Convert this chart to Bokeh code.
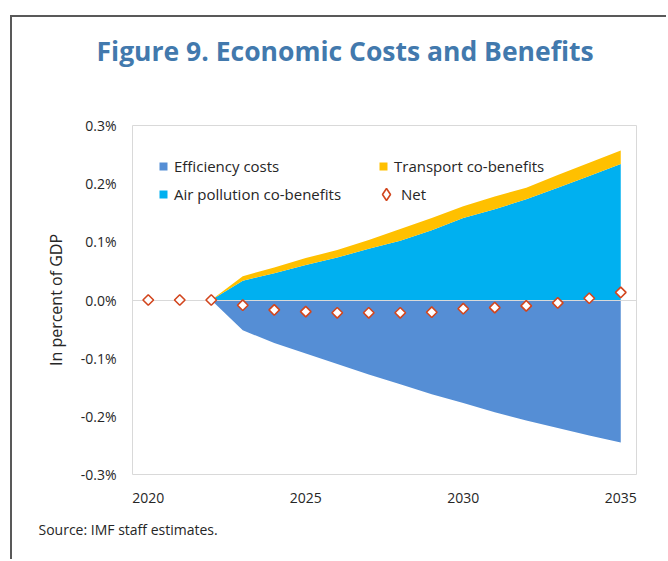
import math
from bokeh.plotting import figure
from bokeh.models import (ColumnDataSource, Legend, LegendItem, FixedTicker,
                          PrintfTickFormatter, Range1d, Title)
from bokeh.embed import file_html
from bokeh.resources import INLINE

# ---------------- data (percent of GDP) ----------------
years = [2020, 2021, 2022, 2023, 2024, 2025, 2026, 2027, 2028, 2029, 2030,
         2031, 2032, 2033, 2034, 2035]
efficiency_costs = [0, 0, 0, -0.052, -0.074, -0.092, -0.110, -0.128, -0.145,
                    -0.162, -0.177, -0.193, -0.207, -0.220, -0.233, -0.245]
air_pollution = [0, 0, 0, 0.033, 0.046, 0.060, 0.073, 0.088, 0.102, 0.120,
                 0.141, 0.156, 0.173, 0.193, 0.213, 0.234]
transport = [0, 0, 0, 0.008, 0.010, 0.012, 0.013, 0.015, 0.020, 0.021,
             0.020, 0.022, 0.020, 0.022, 0.023, 0.023]
net = [0, 0, 0, -0.009, -0.017, -0.020, -0.022, -0.022, -0.022, -0.021,
       -0.015, -0.013, -0.010, -0.005, 0.003, 0.013]
x_ticks = [2020, 2025, 2030, 2035]
y_ticks = [-0.3, -0.2, -0.1, 0, 0.1, 0.2, 0.3]

source = ColumnDataSource(dict(year=years, eff=efficiency_costs, air=air_pollution,
                               transport=transport, net=net,
                               zero=[0] * len(years)))

FONT = "Open Sans"
TXT = "#262626"
NET_COLOR = "#D2461E"

p = figure(width=656, height=544, output_backend="svg", toolbar_location=None,
           x_range=Range1d(2019.5, 2035.5), y_range=Range1d(-0.3, 0.3),
           min_border_left=120, min_border_right=32, min_border_top=108,
           min_border_bottom=87,
           styles={"border-top": "2px solid #595959", "border-left": "2px solid #595959"},
           margin=(15, 0, 0, 10))
# off-screen range used only to supply a diamond glyph to the legend
p.extra_y_ranges = {"legend_only": Range1d(start=10, end=11)}

# spacer between frame and title (closest to the frame)
p.add_layout(Title(text=" ", text_font_size="14px", standoff=34), "above")

# title (outermost)
p.title.text = "Figure 9. Economic Costs and Benefits"
p.title.align = "left"
p.title.offset = -36
p.title.text_font = FONT
p.title.text_font_style = "bold"
p.title.text_font_size = "26.5px"
p.title.text_color = "#4279AD"
p.title.standoff = 10

# areas
r_eff = p.varea(x="year", y1="eff", y2="zero", source=source, fill_color="#558ED5")
r_air, r_tr = p.varea_stack(["air", "transport"], x="year", source=source,
                            color=["#00B0F0", "#FFC000"])
p.hspan(y=[0], line_color="#D9D9D9", line_width=1)
r_net = p.scatter(x="year", y="net", source=source, marker="square", size=7.5,
                  angle=math.pi / 4, fill_color="white", line_color=NET_COLOR,
                  line_width=1.6)
# legend-only glyph for the Net entry (drawn on an off-screen range)
r_net_leg = p.scatter(x="year", y="net", source=source, marker="diamond",
                      fill_color="white", line_color=NET_COLOR, line_width=1.6,
                      y_range_name="legend_only")

# axes
p.xgrid.visible = False
p.ygrid.visible = False
p.outline_line_color = "#D9D9D9"
p.outline_line_width = 1

p.xaxis.ticker = FixedTicker(ticks=x_ticks)
p.yaxis.ticker = FixedTicker(ticks=y_ticks)
p.yaxis.formatter = PrintfTickFormatter(format="%.1f%%")
for ax in (p.xaxis, p.yaxis):
    ax.axis_line_color = None
    ax.major_tick_line_color = None
    ax.minor_tick_line_color = None
    ax.major_label_text_font = FONT
    ax.major_label_text_font_size = "14px"
    ax.major_label_text_color = TXT
p.xaxis.major_label_standoff = 12
p.yaxis.major_label_standoff = 10
p.yaxis.axis_label = "In percent of GDP"
p.yaxis.axis_label_text_font = FONT
p.yaxis.axis_label_text_font_style = "normal"
p.yaxis.axis_label_text_font_size = "16px"
p.yaxis.axis_label_text_color = TXT
p.yaxis.axis_label_standoff = 11


def style_legend(lg):
    lg.label_text_font = FONT
    lg.label_text_font_size = "15px"
    lg.label_text_color = TXT
    lg.padding = 0
    lg.margin = 0
    lg.border_line_color = None
    lg.background_fill_alpha = 0


legend = Legend(items=[
    LegendItem(label="Efficiency costs", renderers=[r_eff]),
    LegendItem(label="Air pollution co-benefits", renderers=[r_air]),
    LegendItem(label="Transport co-benefits", renderers=[r_tr]),
], ncols=2, location=(26, 270))
style_legend(legend)
legend.glyph_width = 10
legend.glyph_height = 10
legend.label_standoff = 6
legend.label_width = 196
legend.label_height = 20
legend.spacing = 8
p.add_layout(legend)

legend_net = Legend(items=[LegendItem(label="Net", renderers=[r_net_leg])],
                    location=(239, 265))
style_legend(legend_net)
legend_net.glyph_width = 30
legend_net.glyph_height = 30
legend_net.label_standoff = -12
p.add_layout(legend_net)

# source note
src = Title(text="Source: IMF staff estimates.", align="left", offset=-94,
            text_font=FONT, text_font_size="14px", text_font_style="normal",
            text_color=TXT, standoff=24)
p.add_layout(src, "below")

open("out.html", "w").write(file_html(p, INLINE))
